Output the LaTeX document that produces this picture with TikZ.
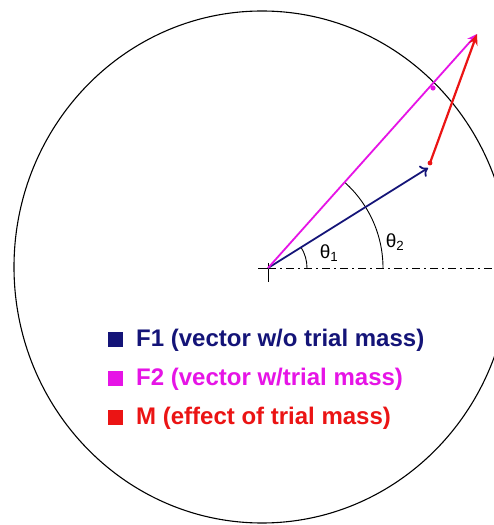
\documentclass[tikz,border=0pt]{standalone}
\usepackage{fontspec}
\setmainfont{Liberation Sans}
\usetikzlibrary{arrows.meta,calc}
\definecolor{fone}{RGB}{20,20,120}
\definecolor{ftwo}{RGB}{230,20,230}
\definecolor{mred}{RGB}{235,20,20}
\begin{document}
\begin{tikzpicture}[x=1pt,y=1pt,
  legbox/.style={minimum size=15pt,inner sep=0pt},
  legtext/.style={anchor=west,inner sep=0pt,font=\fontsize{24}{28}\selectfont\bfseries},
  anglab/.style={inner sep=0pt,font=\fontsize{19}{22}\selectfont}]
\useasboundingbox (0,0) rectangle (494,525);
\clip (0,0) rectangle (494,525);
\fill[white] (0,0) rectangle (494,525);
% outer circle
\draw[line width=1.1pt] (262,258) ellipse [x radius=248, y radius=256];
% named points
\coordinate (O) at (268,257);
\coordinate (A) at (428,357);
\coordinate (R) at (430,362);
\coordinate (B) at (477,491);
\coordinate (E) at (494,257);
% reference axis
\draw[line width=0.9pt,dash pattern=on 8pt off 4pt on 2pt off 4pt] (O) -- (E);
\draw[line width=0.9pt] (268,262) -- (268,243);
\draw[line width=0.9pt] (258,257) -- (O);
% angle arcs
\draw[line width=0.9pt] ($(O)+(32:39)$) arc[start angle=32,end angle=0,radius=39];
\draw[line width=0.9pt] ($(O)+(48.2:115)$) arc[start angle=48.2,end angle=0,radius=115];
\node[anglab] (t1) at (329,272) {θ\textsubscript{1}};
\node[anglab] (t2) at (395,283) {θ\textsubscript{2}};
% vectors
\draw[fone,line width=1.8pt,-{To[length=7pt,width=13pt]}] (O) -- (A);
\draw[ftwo,line width=1.8pt,-{Stealth[length=10pt,width=8pt]}] (O) -- (B);
\draw[mred,line width=2.2pt,-{Stealth[length=11pt,width=9pt]}] (R) -- (B);
\fill[mred] (R) circle (2.4);
\fill[ftwo] (433,437) circle (2.6);
% legend
\node[legbox,fill=fone] (s1) at (115,185) {};
\node[legbox,fill=ftwo] (s2) at (115,146) {};
\node[legbox,fill=mred] (s3) at (115,107) {};
\node[legtext,text=fone] (l1) at (136,185) {F1 (vector w/o trial mass)};
\node[legtext,text=ftwo] (l2) at (136,146) {F2 (vector w/trial mass)};
\node[legtext,text=mred] (l3) at (136,107) {M (effect of trial mass)};
\end{tikzpicture}
\end{document}
